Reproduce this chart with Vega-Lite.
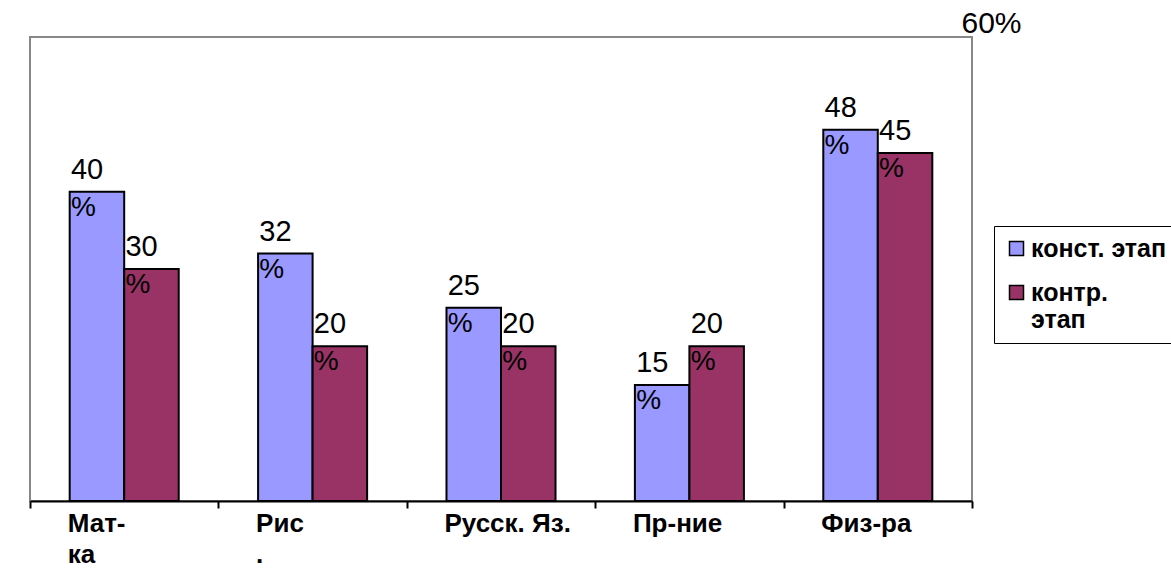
{
  "$schema": "https://vega.github.io/schema/vega-lite/v6.json",
  "width": 942,
  "height": 464,
  "autosize": "none",
  "padding": {"left": 30, "top": 37, "right": 199, "bottom": 80},
  "background": "white",
  "config": {
    "font": "Liberation Sans",
    "view": {"stroke": "#888888", "strokeWidth": 2}
  },
  "data": {
    "values": [
      {"subject": "Мат-ка", "stage": "конст. этап", "value": 40},
      {"subject": "Мат-ка", "stage": "контр. этап", "value": 30},
      {"subject": "Рис.", "stage": "конст. этап", "value": 32},
      {"subject": "Рис.", "stage": "контр. этап", "value": 20},
      {"subject": "Русск. Яз.", "stage": "конст. этап", "value": 25},
      {"subject": "Русск. Яз.", "stage": "контр. этап", "value": 20},
      {"subject": "Пр-ние", "stage": "конст. этап", "value": 15},
      {"subject": "Пр-ние", "stage": "контр. этап", "value": 20},
      {"subject": "Физ-ра", "stage": "конст. этап", "value": 48},
      {"subject": "Физ-ра", "stage": "контр. этап", "value": 45}
    ]
  },
  "encoding": {
    "x": {
      "field": "subject",
      "type": "nominal",
      "sort": null,
      "scale": {"paddingInner": 0, "paddingOuter": 0},
      "axis": {
        "title": null,
        "labelAngle": 0,
        "domainColor": "black",
        "domainWidth": 2,
        "tickColor": "black",
        "tickWidth": 2,
        "tickSize": 7,
        "tickBand": "extent",
        "labelFontSize": 26,
        "labelFontWeight": "bold",
        "labelColor": "black",
        "labelPadding": 2,
        "labelAlign": "left",
        "labelOffset": -57,
        "labelBaseline": "top",
        "labelLineHeight": 31,
        "labelExpr": "datum.label == 'Мат-ка' ? ['Мат-', 'ка'] : datum.label == 'Рис.' ? ['Рис', '.'] : datum.label"
      }
    },
    "xOffset": {
      "field": "stage",
      "type": "nominal",
      "sort": null,
      "scale": {"paddingInner": 0, "paddingOuter": 0.728}
    },
    "y": {
      "field": "value",
      "type": "quantitative",
      "scale": {"domain": [0, 60], "nice": false},
      "axis": {
        "orient": "right",
        "title": null,
        "values": [60],
        "labelExpr": "datum.value + '%'",
        "domain": false,
        "ticks": false,
        "grid": false,
        "labelFontSize": 30,
        "labelColor": "black",
        "labelPadding": -11,
        "labelAlign": "left",
        "labelBaseline": "alphabetic",
        "labelOffset": -5
      }
    }
  },
  "layer": [
    {
      "mark": {"type": "bar", "stroke": "black", "strokeWidth": 2},
      "encoding": {
        "color": {
          "field": "stage",
          "type": "nominal",
          "scale": {"domain": ["конст. этап", "контр. этап"], "range": ["#9999FF", "#993366"]},
          "legend": {
            "title": null,
            "orient": "none",
            "legendX": 964,
            "legendY": 189,
            "strokeColor": "black",
            "padding": 10,
            "symbolType": "square",
            "symbolSize": 196,
            "symbolStrokeColor": "black",
            "symbolStrokeWidth": 1.5,
            "labelFontSize": 25,
            "labelFontWeight": "bold",
            "labelColor": "black",
            "labelLimit": 500,
            "labelOffset": 2,
            "rowPadding": 18,
            "labelBaseline": "middle",
            "labelLineHeight": 31,
            "labelExpr": "datum.label == 'контр. этап' ? ['контр.', 'этап'] : datum.label"
          }
        }
      }
    },
    {
      "mark": {"type": "text", "align": "left", "baseline": "alphabetic", "dx": -26, "dy": -13, "fontSize": 29, "color": "black"},
      "encoding": {"text": {"field": "value", "type": "quantitative"}}
    },
    {
      "mark": {"type": "text", "align": "left", "baseline": "alphabetic", "dx": -26, "dy": 24, "fontSize": 28, "color": "black", "text": "%"},
      "encoding": {}
    }
  ]
}
